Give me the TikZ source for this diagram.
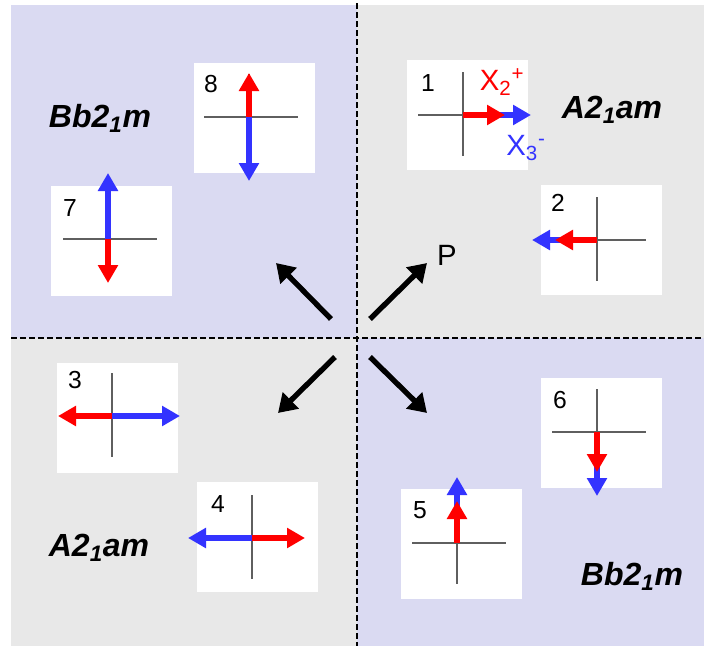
\documentclass[tikz,border=0pt]{standalone}
\usepackage{fontspec}
\setmainfont{Liberation Sans}
\usetikzlibrary{arrows.meta,positioning,calc}
\definecolor{phLav}{HTML}{DADAF2}
\definecolor{phGrey}{HTML}{E8E8E8}
\definecolor{phRed}{HTML}{FF0000}
\definecolor{phBlue}{HTML}{3333FF}
\definecolor{phAxis}{HTML}{5F5F5F}
\tikzset{
  cell/.style={fill=white, minimum width=90.75pt, minimum height=82.5pt, inner sep=0pt},
  axis/.style={draw=phAxis, line width=0.9pt},
  redvec/.style={-{Triangle[length=13.5pt, width=14.5pt]}, line width=5pt, phRed},
  bluevec/.style={-{Triangle[length=13.5pt, width=14.5pt]}, line width=5pt, phBlue},
  push/.style={-{Triangle[length=13.5pt, width=16.5pt]}, line width=4pt, black},
  divider/.style={black, line width=1.1pt, dash pattern=on 4.5pt off 2.25pt},
  num/.style={font=\fontsize{18.5}{20}\selectfont, inner sep=0pt},
  grp/.style={font=\fontsize{24}{28}\selectfont\bfseries\itshape, inner sep=0pt},
  mode/.style={font=\fontsize{22}{24}\selectfont, inner sep=0pt}
}
\begin{document}
\begin{tikzpicture}[x=0.75pt, y=-0.75pt]
  \useasboundingbox (0,0) rectangle (704,646);
  % quadrants
  \fill[phLav] (11,5) rectangle (357,338);
  \fill[phGrey] (357,5) rectangle (704,338);
  \fill[phGrey] (11,338) rectangle (357,646);
  \fill[phLav] (357,338) rectangle (704,646);
  \draw[divider] (357,3) -- (357,646);
  \draw[divider] (11,338) -- (704,338);

  % domain boxes
  \node[cell] (b1) at (467.5,115) {};
  \node[cell] (b2) at (601.5,240) {};
  \node[cell] (b3) at (117,417.5) {};
  \node[cell] (b4) at (257.5,536.5) {};
  \node[cell] (b5) at (461.5,543.5) {};
  \node[cell] (b6) at (601.5,432.5) {};
  \node[cell] (b7) at (111.5,240.5) {};
  \node[cell] (b8) at (254,117.5) {};

  \coordinate (c1) at (463,115);
  \coordinate (c2) at (597,240);
  \coordinate (c3) at (112,416);
  \coordinate (c4) at (252,538);
  \coordinate (c5) at (457,543);
  \coordinate (c6) at (597,432);
  \coordinate (c7) at (108,239);
  \coordinate (c8) at (249,117);
  \foreach \c in {c1,c2,c3,c4,c5,c6,c7,c8}
    \draw[axis] (\c) ++(-45,0) -- ++(94,0) (\c) ++(0,-43) -- ++(0,84);

  \node[num] (n1) at (428,83) {1};
  \node[num] (n2) at (558,203) {2};
  \node[num] (n3) at (75,380) {3};
  \node[num] (n4) at (218,504) {4};
  \node[num] (n5) at (420,510) {5};
  \node[num] (n6) at (560,400) {6};
  \node[num] (n7) at (70,208) {7};
  \node[num] (n8) at (211,84) {8};

  % order parameter components
  \draw[bluevec] (c1) -- ++(68,0);  \draw[redvec] (c1) -- ++(42,0);
  \draw[bluevec] (c2) -- ++(-65,0); \draw[redvec] (c2) -- ++(-42,0);
  \draw[redvec] (c3) -- ++(-54,0);  \draw[bluevec] (c3) -- ++(68,0);
  \draw[bluevec] (c4) -- ++(-64,0); \draw[redvec] (c4) -- ++(53,0);
  \draw[bluevec] (c5) -- ++(0,-66); \draw[redvec] (c5) -- ++(0,-42);
  \draw[bluevec] (c6) -- ++(0,64);  \draw[redvec] (c6) -- ++(0,40);
  \draw[bluevec] (c7) -- ++(0,-66); \draw[redvec] (c7) -- ++(0,44);
  \draw[redvec] (c8) -- ++(0,-44);  \draw[bluevec] (c8) -- ++(0,64);

  \node[mode, phRed] (x2) at (502,82) {X\textsubscript{2}\textsuperscript{+}};
  \node[mode, phBlue] (x3) at (526,148) {X\textsubscript{3}\textsuperscript{-}};

  % space groups
  \node[grp] (g1) at (100,118) {Bb2\textsubscript{1}m};
  \node[grp] (g2) at (612,110) {A2\textsubscript{1}am};
  \node[grp] (g3) at (99,548) {A2\textsubscript{1}am};
  \node[grp] (g4) at (632,576) {Bb2\textsubscript{1}m};

  % transitions from P
  \coordinate (ulS) at (331,319); \coordinate (ulE) at (276,263);
  \coordinate (urS) at (370,319); \coordinate (urE) at (427,263);
  \coordinate (llS) at (335,357); \coordinate (llE) at (278,413);
  \coordinate (lrS) at (370,357); \coordinate (lrE) at (427,413);
  \draw[push] (ulS) -- (ulE);
  \draw[push] (urS) -- (urE);
  \draw[push] (llS) -- (llE);
  \draw[push] (lrS) -- (lrE);
  \node[mode] (p) at (447,255) {P};
\end{tikzpicture}
\end{document}
